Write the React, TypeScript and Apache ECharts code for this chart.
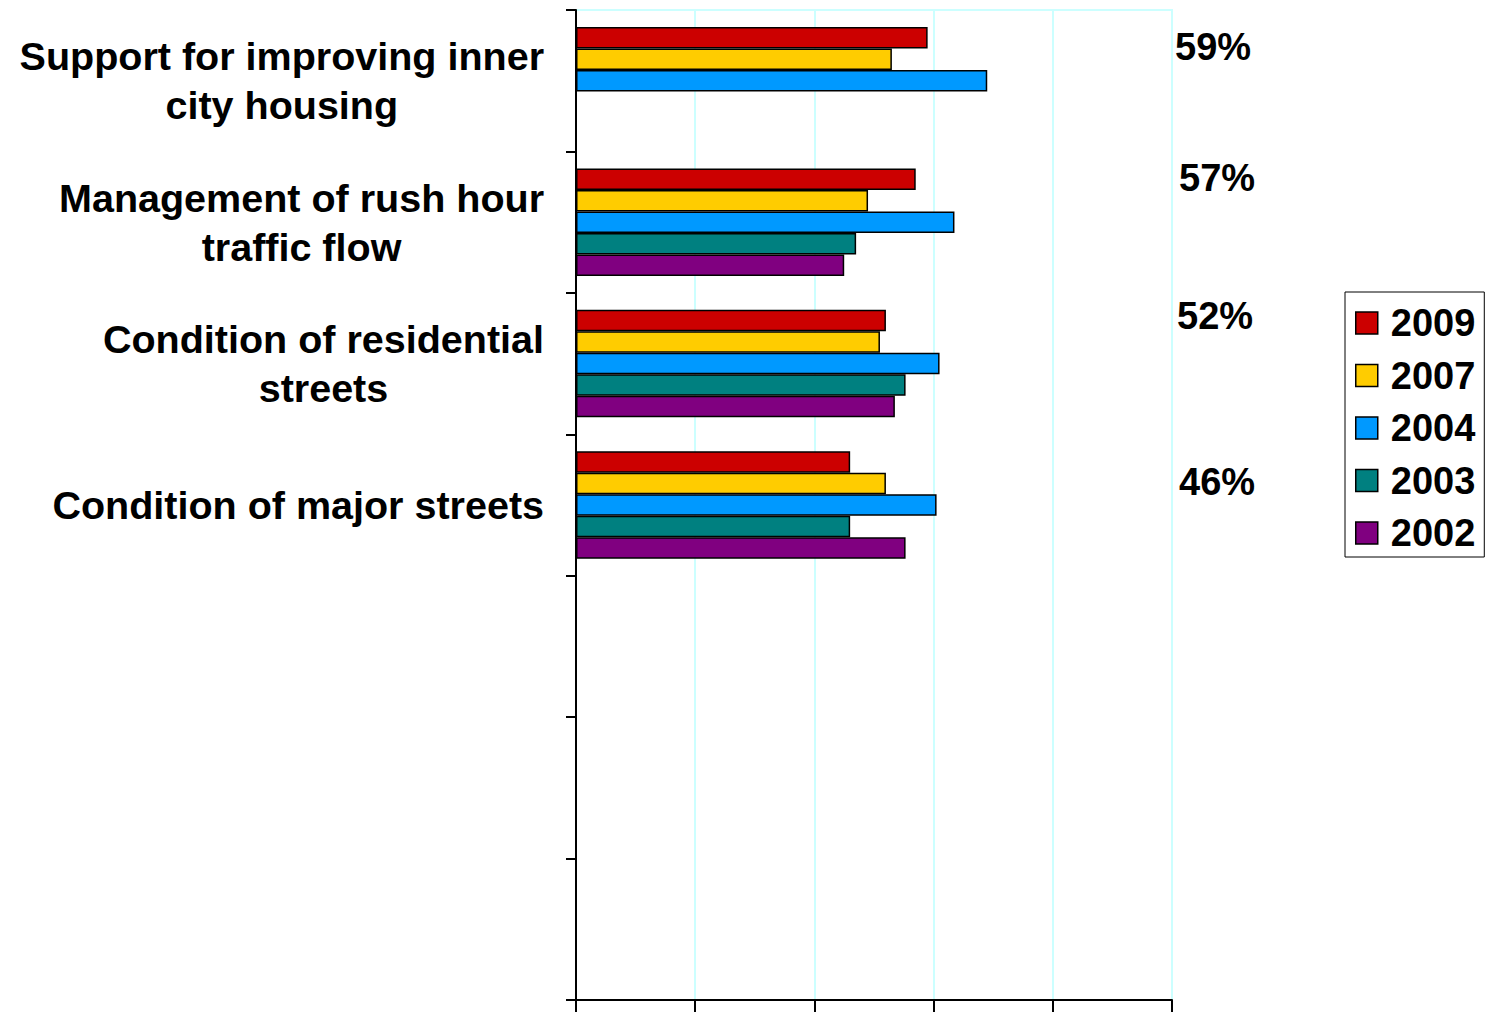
import React, { useEffect, useRef } from "react";
import * as echarts from "echarts";

// Survey items (top to bottom); the last three rows are empty slots on the axis.
const categories = [
  "Support for improving inner\ncity housing",
  "Management of rush hour\ntraffic flow",
  "Condition of residential\nstreets",
  "Condition of major streets",
  "",
  "",
  "",
];

const years = ["2009", "2007", "2004", "2003", "2002"];
const yearColors = ["#CC0000", "#FFCC00", "#0099FF", "#008080", "#800080"];

// Percent satisfied, per year, aligned with categories.
const values2009 = [59, 57, 52, 46, null, null, null];
const values2007 = [53, 49, 51, 52, null, null, null];
const values2004 = [69, 63.5, 61, 60.5, null, null, null];
const values2003 = [null, 47, 55.3, 46, null, null, null];
const values2002 = [null, 45, 53.5, 55.3, null, null, null];

const seriesValues = [values2009, values2007, values2004, values2003, values2002];

const FONT = "'Liberation Sans', Arial, Helvetica, sans-serif";

export default function App() {
  const ref = useRef<HTMLDivElement>(null);

  useEffect(() => {
    document.body.style.margin = "0";
    const chart = echarts.init(ref.current!, null, { renderer: "svg" });

    // 2009 callouts to the right of the plot
    const calloutPos = [
      { x: 1175, y: 47 },
      { x: 1179, y: 178 },
      { x: 1177, y: 316 },
      { x: 1179, y: 482 },
    ];
    const callouts = calloutPos.map((p, i) => ({
      type: "text",
      x: p.x,
      y: p.y,
      style: {
        text: `${values2009[i]}%`,
        fontSize: 38,
        fontWeight: "bold",
        fontFamily: FONT,
        fill: "#000",
        textAlign: "left",
        textVerticalAlign: "middle",
      },
    }));

    chart.setOption({
      animation: false,
      backgroundColor: "#fff",
      grid: {
        left: 576,
        right: 318,
        top: 10,
        bottom: 12,
        show: true,
        borderColor: "#CCFFFF",
        borderWidth: 2,
      },
      legend: {
        orient: "vertical",
        left: 1345,
        top: 292,
        data: years,
        icon: "rect",
        itemWidth: 22,
        itemHeight: 22,
        itemGap: 14.5,
        padding: [12, 9, 5, 10],
        borderColor: "#000",
        borderWidth: 1,
        itemStyle: { borderColor: "#000", borderWidth: 1.5 },
        textStyle: {
          fontSize: 38,
          fontWeight: "bold",
          fontFamily: FONT,
          color: "#000",
          padding: [0, 0, 0, 8],
        },
      },
      xAxis: {
        type: "value",
        min: 0,
        max: 100,
        interval: 20,
        axisLabel: { show: false },
        axisLine: { show: true, lineStyle: { color: "#000", width: 2 } },
        axisTick: { show: true, length: 12, lineStyle: { color: "#000", width: 2 } },
        splitLine: { show: true, lineStyle: { color: "#CCFFFF", width: 2 } },
      },
      yAxis: {
        type: "category",
        inverse: true,
        data: categories,
        axisLine: { show: true, lineStyle: { color: "#000", width: 2 } },
        axisTick: { show: true, length: 10, lineStyle: { color: "#000", width: 2 } },
        splitLine: { show: false },
        axisLabel: {
          margin: 32,
          align: "right",
          formatter: (v: string) =>
            v ? v.split("\n").map((l) => `{c|${l}}`).join("\n") : "",
          rich: {
            c: {
              align: "center",
              fontSize: 39.5,
              fontWeight: "bold",
              fontFamily: FONT,
              color: "#000",
              lineHeight: 49,
            },
          },
        },
      },
      series: years.map((y, i) => ({
        name: y,
        type: "bar",
        data: seriesValues[i],
        barGap: "0%",
        barCategoryGap: "24%",
        itemStyle: {
          color: yearColors[i],
          borderColor: "#000",
          borderWidth: 1.5,
        },
      })),
      graphic: callouts,
    });

    return () => chart.dispose();
  }, []);

  return (
    <div
      ref={ref}
      style={{ position: "absolute", left: 0, top: 0, width: 1490, height: 1012 }}
    />
  );
}
